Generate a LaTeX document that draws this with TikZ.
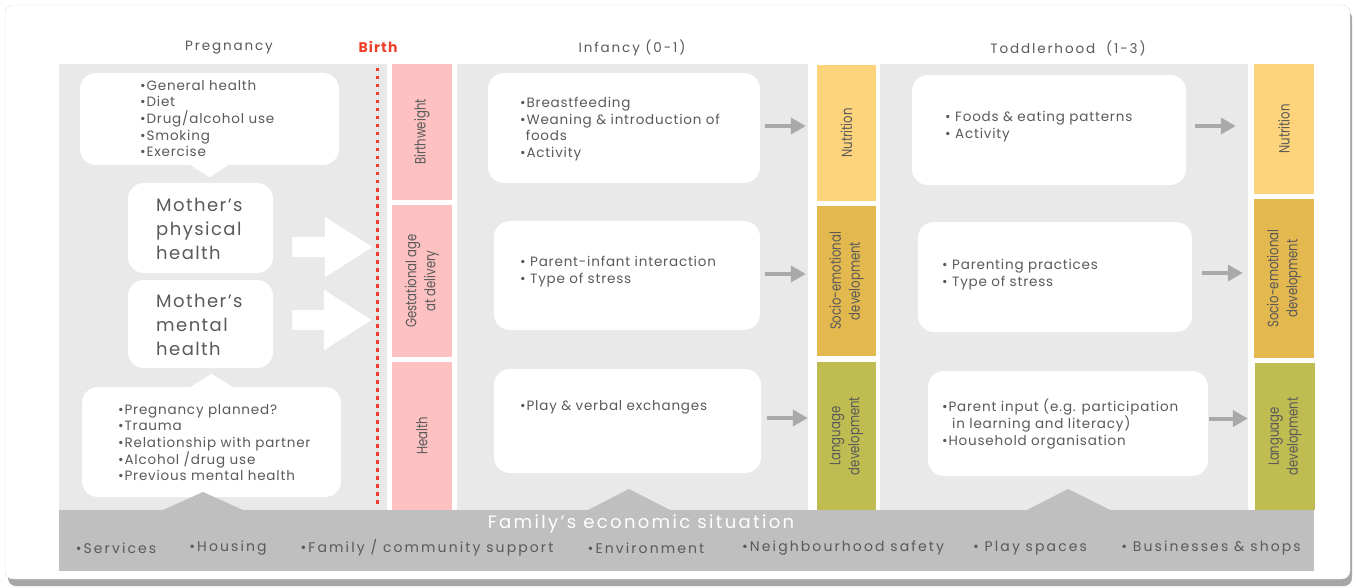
\documentclass[tikz,border=0pt]{standalone}
\usepackage{fontspec}
\setmainfont{Poppins}
\newfontfamily\narrowfont[FakeStretch=0.78]{Poppins}
\newfontfamily\bulletfont[LetterSpace=6]{Poppins}
\newfontfamily\spacedfont[LetterSpace=8]{Poppins}
\newfontfamily\widefont[LetterSpace=14]{Poppins}
\usetikzlibrary{shapes.arrows, positioning, calc, arrows.meta}
\definecolor{txtgray}{HTML}{5A5A5A}
\definecolor{panelgray}{HTML}{E9E9E9}
\definecolor{bargray}{HTML}{BFBFBF}
\definecolor{birthpink}{HTML}{FDC1C1}
\definecolor{nutriyellow}{HTML}{FDD37C}
\definecolor{sociogold}{HTML}{E3B94F}
\definecolor{langolive}{HTML}{BFBD52}
\definecolor{arrowgray}{HTML}{A9A9A9}
\definecolor{birthred}{HTML}{F0402A}
\tikzstyle{panel} = [fill=panelgray, inner sep=0pt, anchor=north west]
\tikzstyle{bubble} = [fill=white, rounded corners=16pt, inner sep=0pt]
\tikzstyle{outcome} = [inner sep=0pt, rotate=90, minimum height=60pt, text=txtgray, align=center, font=\narrowfont\fontsize{15}{19}\selectfont]
\tikzstyle{bullets} = [anchor=north west, yshift=-3pt, inner sep=0pt, text=txtgray, align=left, font=\bulletfont\fontsize{13.5}{16.7}\selectfont]
\tikzstyle{mother} = [anchor=north west, yshift=-3pt, inner sep=0pt, text=txtgray, align=left, font=\spacedfont\fontsize{18}{24}\selectfont]
\tikzstyle{stage} = [text=txtgray, font=\widefont\fontsize{13.5}{15}\selectfont]
\tikzstyle{bigarrow} = [single arrow, fill=white, anchor=tail, inner xsep=0pt, inner ysep=10pt, minimum height=80pt, single arrow head extend=20pt, single arrow tip angle=65]
\tikzstyle{flow} = [draw=arrowgray, line width=4pt, -{Triangle[length=15pt,width=16pt]}]

\begin{document}
\begin{tikzpicture}[x=1pt, y=-1pt]
	\useasboundingbox (0,0) rectangle (1356,588);
	% card with shadow
	\fill[black!35, rounded corners=8pt] (8,10) rectangle (1352,586);
	\filldraw[fill=white, draw=black!12, rounded corners=8pt] (5,5) rectangle (1350,579);

	% panels
	\node[panel, minimum width=328pt, minimum height=446pt] (pregpanel) at (59,64) {};
	\node[panel, minimum width=351pt, minimum height=446pt] (infpanel) at (457,64) {};
	\node[panel, minimum width=368pt, minimum height=446pt] (todpanel) at (880,64) {};

	% headers
	\node[stage] (hpreg) at (229,48) {Pregnancy};
	\node[stage] (hinf) at (632,48) {Infancy (0-1)};
	\node[stage] (htod) at (1068,48) {Toddlerhood\ \ (1-3)};
	\node[text=birthred, font=\spacedfont\bfseries\fontsize{14}{15}\selectfont] (hbirth) at (378,47) {Birth};

	% birth outcomes
	\node[outcome, fill=birthpink, minimum width=136pt] (bw) at (422,132) {Birthweight};
	\node[outcome, fill=birthpink, minimum width=152pt] (gest) at (422,281) {Gestational age\\at delivery};
	\node[outcome, fill=birthpink, minimum width=148pt] (hlth) at (422,436) {Health};

	% infancy outcomes
	\node[outcome, fill=nutriyellow, minimum width=136pt, minimum height=59pt] (inut) at (846.5,133) {Nutrition};
	\node[outcome, fill=sociogold, minimum width=150pt, minimum height=59pt] (isoc) at (846.5,281) {Socio-emotional\\development};
	\node[outcome, fill=langolive, minimum width=148pt, minimum height=59pt] (ilang) at (846.5,436) {Language\\development};

	% toddlerhood outcomes
	\node[outcome, fill=nutriyellow, minimum width=130pt] (tnut) at (1284,129) {Nutrition};
	\node[outcome, fill=sociogold, minimum width=159pt] (tsoc) at (1284,278.5) {Socio-emotional\\development};
	\node[outcome, fill=langolive, minimum width=147pt] (tlang) at (1285,436.5) {Language\\development};

	% birth line
	\coordinate (birthtop) at (377,68);
	\coordinate (birthbot) at (377,508);
	\draw[birthred, line width=3pt, dash pattern=on 3.5pt off 4.5pt] (birthtop) -- (birthbot);

	% pregnancy bubbles
	\node[bubble, minimum width=259pt, minimum height=92pt] (pb1) at (209.5,119) {};
	\fill[white] ($(pb1.south)+(-19,0)$) -- ($(pb1.south)+(0,12)$) -- ($(pb1.south)+(19,0)$) -- cycle;
	\node[bullets] (pb1txt) at (140,77) {•General health\\•Diet\\•Drug/alcohol use\\•Smoking\\•Exercise};

	\node[bubble, minimum width=145pt, minimum height=90pt] (mph) at (200.5,228) {};
	\node[mother] (mphtxt) at (156,195) {Mother’s\\physical\\health};
	\node[bubble, minimum width=145pt, minimum height=88pt] (mmh) at (200.5,324) {};
	\node[mother] (mmhtxt) at (156,291) {Mother’s\\mental\\health};

	\node[bubble, minimum width=259pt, minimum height=110pt] (pb2) at (211.5,442) {};
	\fill[white] ($(pb2.north)+(-21,0)$) -- ($(pb2.north)+(0,-13)$) -- ($(pb2.north)+(21,0)$) -- cycle;
	\node[bullets] (pb2txt) at (118,401) {•Pregnancy planned?\\•Trauma\\•Relationship with partner\\•Alcohol /drug use\\•Previous mental health};

	% big white arrows
	\node[bigarrow] (mpharrow) at ($(mph.east)+(19,19)$) {};
	\node[bigarrow, minimum height=79pt] (mmharrow) at ($(mmh.east)+(19,-4)$) {};

	% infancy bubbles
	\node[bubble, minimum width=272pt, minimum height=110pt] (ib1) at (624,128) {};
	\node[bullets] (ib1txt) at (520,94) {•Breastfeeding\\•Weaning \& introduction of\\\phantom{•}foods\\•Activity};
	\node[bubble, minimum width=266pt, minimum height=109pt] (ib2) at (627,275.5) {};
	\node[bullets] (ib2txt) at (520,253) {• Parent-infant interaction\\• Type of stress};
	\node[bubble, minimum width=267pt, minimum height=104pt] (ib3) at (627.5,421) {};
	\node[bullets] (ib3txt) at (520,397) {•Play \& verbal exchanges};

	% toddlerhood bubbles
	\node[bubble, minimum width=274pt, minimum height=110pt] (tb1) at (1049,130) {};
	\node[bullets] (tb1txt) at (945,108) {• Foods \& eating patterns\\• Activity};
	\node[bubble, minimum width=274pt, minimum height=110pt] (tb2) at (1055,277) {};
	\node[bullets] (tb2txt) at (942,256) {• Parenting practices\\• Type of stress};
	\node[bubble, minimum width=280pt, minimum height=105pt] (tb3) at (1068,423.5) {};
	\node[bullets] (tb3txt) at (942,396) {•Parent input (e.g. participation\\\phantom{•} in learning and literacy)\\•Household organisation};

	% arrows to outcomes (outcome cells are rotated: their north is the left side)
	\draw[flow, shorten <=5pt, shorten >=11pt] ([yshift=2pt]ib1.east) -- ([yshift=2pt]ib1.east -| inut.north);
	\draw[flow, shorten <=5pt, shorten >=11pt] ([yshift=1.5pt]ib2.east) -- ([yshift=1.5pt]ib2.east -| isoc.north);
	\draw[flow, shorten <=6pt, shorten >=9pt] ([yshift=3pt]ib3.east) -- ([yshift=3pt]ib3.east -| ilang.north);
	\draw[flow, shorten <=9pt, shorten >=18pt] ([yshift=4pt]tb1.east) -- ([yshift=4pt]tb1.east -| tnut.north);
	\draw[flow, shorten <=10pt, shorten >=11pt] ([yshift=4pt]tb2.east) -- ([yshift=4pt]tb2.east -| tsoc.north);
	\draw[flow, shorten <=1pt, shorten >=7pt] ([yshift=5pt]tb3.east) -- ([yshift=5pt]tb3.east -| tlang.north);

	% family's economic situation
	\node[panel, fill=bargray, minimum width=1255pt, minimum height=61pt] (econ) at (59,510) {};
	\fill[bargray] ($(pb2.south |- econ.north)+(-48.5,0)$) -- ($(pb2.south |- econ.north)+(-8.5,-18)$) -- ($(pb2.south |- econ.north)+(31.5,0)$) -- cycle;
	\fill[bargray] ($(ib3.south |- econ.north)+(-39.5,0)$) -- ($(ib3.south |- econ.north)+(1.5,-21)$) -- ($(ib3.south |- econ.north)+(42.5,0)$) -- cycle;
	\fill[bargray] ($(tb3.south |- econ.north)+(-41,0)$) -- ($(tb3.south |- econ.north)+(0,-21)$) -- ($(tb3.south |- econ.north)+(42,0)$) -- cycle;
	\node[text=white, font=\addfontfeature{LetterSpace=13}\fontsize{18}{20}\selectfont] (econtitle) at (641,524) {Family’s economic situation};
	\foreach \x/\t [count=\i] in {116/{•Services}, 228/{•Housing}, 427/{•Family / community support}, 646/{•Environment}, 843/{•Neighbourhood safety}, 1030/{• Play spaces}, 1211/{• Businesses \& shops}}
		\node[text=txtgray, font=\addfontfeature{LetterSpace=15}\fontsize{14}{15}\selectfont] (econitem\i) at (\x,548) {\t};
\end{tikzpicture}
\end{document}
